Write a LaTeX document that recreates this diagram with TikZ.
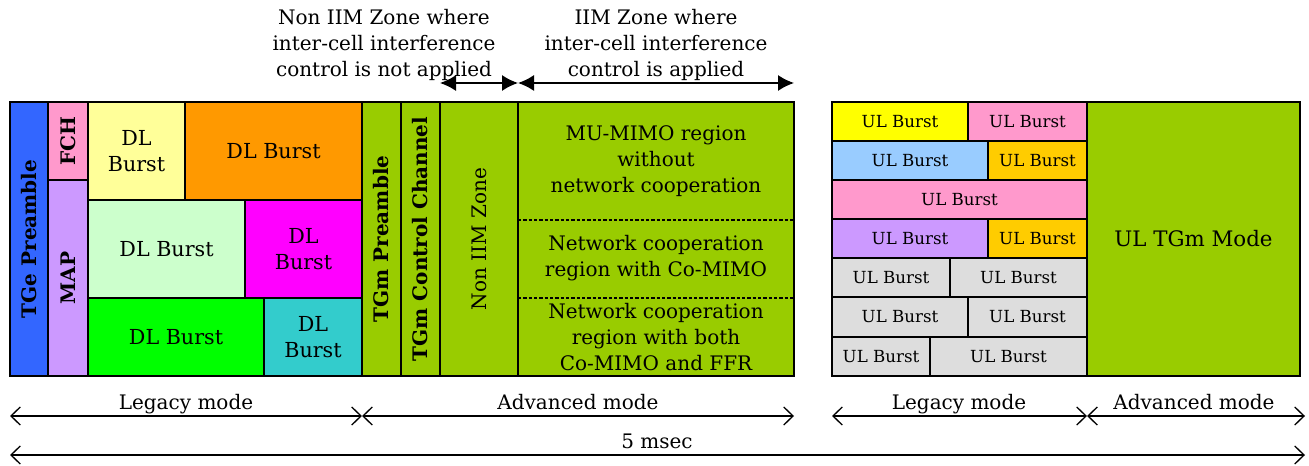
\documentclass[tikz,border=0pt]{standalone}
\usepackage{fontspec}
\setmainfont{DejaVu Serif}
\usetikzlibrary{arrows.meta}
\definecolor{cBlue}{HTML}{3366FF}
\definecolor{cPink}{HTML}{FF99CC}
\definecolor{cLav}{HTML}{CC99FF}
\definecolor{cLYel}{HTML}{FFFF99}
\definecolor{cOrange}{HTML}{FF9900}
\definecolor{cLGreen}{HTML}{CCFFCC}
\definecolor{cMag}{HTML}{FF00FF}
\definecolor{cGreen}{HTML}{00FF00}
\definecolor{cCyan}{HTML}{33CCCC}
\definecolor{cOlive}{HTML}{99CC00}
\definecolor{cYel}{HTML}{FFFF00}
\definecolor{cLBlue}{HTML}{99CCFF}
\definecolor{cGold}{HTML}{FFCC00}
\definecolor{cGray}{HTML}{DDDDDD}
\tikzset{
  box/.style={draw, line width=1.1pt, inner sep=0pt, outer sep=0pt, align=center,
    font=\fontsize{15.5}{19.5}\selectfont},
  ulbox/.style={box, font=\fontsize{12.5}{15}\selectfont},
  vlabel/.style={rotate=90, inner sep=0pt, font=\fontsize{15}{18}\selectfont\bfseries},
  vlabelnb/.style={rotate=90, inner sep=0pt, font=\fontsize{15}{18}\selectfont},
  txt/.style={inner sep=0pt, align=center, font=\fontsize{15}{19.5}\selectfont},
  toparrow/.style={line width=1.1pt, {Latex[length=12pt,width=12pt]}-{Latex[length=12pt,width=12pt]}},
  botarrow/.style={line width=1pt, {Straight Barb[length=7pt,width=13.5pt]}-{Straight Barb[length=7pt,width=13.5pt]}},
  divider/.style={line width=1pt, dash pattern=on 2.5pt off 1.5pt}
}
% #1 style, #2 name, #3 x1, #4 y1, #5 x2, #6 y2, #7 fill, #8 text
\newcommand\blk[8][box]{%
  \node[#1, fill=#7, minimum width={(#5-#3)*0.75pt}, minimum height={(#6-#4)*0.75pt}]
    (#2) at ({(#3+#5)/2},{(#4+#6)/2}) {#8};}
\begin{document}
\begin{tikzpicture}[x=0.75pt,y=-0.75pt]
\useasboundingbox (0,0) rectangle (1309,466);
% ---------- left frame ----------
\blk{tge}{10}{102}{48}{376}{cBlue}{}
\node[vlabel] (tgel) at (tge.center) {TGe Preamble};
\blk{fch}{48}{102}{88}{180}{cPink}{}
\node[vlabel] (fchl) at (fch.center) {FCH};
\blk{map}{48}{180}{88}{376}{cLav}{}
\node[vlabel] (mapl) at (map.center) {MAP};
\blk{dl1}{88}{102}{185}{200}{cLYel}{DL\\Burst}
\blk{dl2}{185}{102}{362}{200}{cOrange}{DL Burst}
\blk{dl3}{88}{200}{245}{298}{cLGreen}{DL Burst}
\blk{dl4}{245}{200}{362}{298}{cMag}{DL\\Burst}
\blk{dl5}{88}{298}{264}{376}{cGreen}{DL Burst}
\blk{dl6}{264}{298}{362}{376}{cCyan}{DL\\Burst}
\blk{tgmp}{362}{102}{401}{376}{cOlive}{}
\node[vlabel] (tgmpl) at (tgmp.center) {TGm Preamble};
\blk{tgmc}{401}{102}{440}{376}{cOlive}{}
\node[vlabel] (tgmcl) at (tgmc.center) {TGm Control Channel};
\blk{niim}{440}{102}{518}{376}{cOlive}{}
\node[vlabelnb] (niiml) at (niim.center) {Non IIM Zone};
\blk{iim}{518}{102}{794}{376}{cOlive}{}
\coordinate (d1) at (600,220);
\coordinate (d2) at (600,298);
\draw[divider] (iim.west |- d1) -- (iim.east |- d1);
\draw[divider] (iim.west |- d2) -- (iim.east |- d2);
\node[txt] (r1) at (656,161) {MU-MIMO region\\without\\network cooperation};
\node[txt] (r2) at (656,258) {Network cooperation\\region with Co-MIMO};
\node[txt] (r3) at (656,337) {Network cooperation\\region with both\\Co-MIMO and FFR};
% ---------- top annotations ----------
\node[txt] (tl) at (384,45) {Non IIM Zone where\\inter-cell interference\\control is not applied};
\node[txt] (tr) at (656,45) {IIM Zone where\\inter-cell interference\\control is applied};
\coordinate (a1) at (440,83);
\coordinate (a2) at (518,83);
\coordinate (a3) at (794,83);
\draw[toparrow] (a1) -- (a2);
\draw[toparrow] (a2) -- (a3);
% ---------- right frame ----------
\blk[ulbox]{u11}{832}{102}{968}{141}{cYel}{UL Burst}
\blk[ulbox]{u12}{968}{102}{1087}{141}{cPink}{UL Burst}
\blk[ulbox]{u21}{832}{141}{988}{180}{cLBlue}{UL Burst}
\blk[ulbox]{u22}{988}{141}{1087}{180}{cGold}{UL Burst}
\blk[ulbox]{u31}{832}{180}{1087}{219}{cPink}{UL Burst}
\blk[ulbox]{u41}{832}{219}{988}{258}{cLav}{UL Burst}
\blk[ulbox]{u42}{988}{219}{1087}{258}{cGold}{UL Burst}
\blk[ulbox]{u51}{832}{258}{950}{297}{cGray}{UL Burst}
\blk[ulbox]{u52}{950}{258}{1087}{297}{cGray}{UL Burst}
\blk[ulbox]{u61}{832}{297}{968}{337}{cGray}{UL Burst}
\blk[ulbox]{u62}{968}{297}{1087}{337}{cGray}{UL Burst}
\blk[ulbox]{u71}{832}{337}{930}{376}{cGray}{UL Burst}
\blk[ulbox]{u72}{930}{337}{1087}{376}{cGray}{UL Burst}
\blk[box,font=\fontsize{16}{19}\selectfont]{ultgm}{1087}{102}{1300}{376}{cOlive}{UL TGm Mode}
% ---------- bottom dimensions ----------
\coordinate (b1) at (10,416);
\coordinate (b2) at (362,416);
\coordinate (b3) at (794,416);
\coordinate (b4) at (832,416);
\coordinate (b5) at (1087,416);
\coordinate (b6) at (1305,416);
\coordinate (c1) at (10,455);
\coordinate (c2) at (1305,455);
\draw[botarrow] (b1) -- (b2);
\draw[botarrow] (b2) -- (b3);
\draw[botarrow] (b4) -- (b5);
\draw[botarrow] (b5) -- (b6);
\draw[botarrow] (c1) -- (c2);
\node[txt, anchor=base] (lg1) at (186,409) {Legacy mode};
\node[txt, anchor=base] (ad1) at (578,409) {Advanced mode};
\node[txt, anchor=base] (lg2) at (959,409) {Legacy mode};
\node[txt, anchor=base] (ad2) at (1194,409) {Advanced mode};
\node[txt, anchor=base] (ms) at (657,448) {5 msec};
\end{tikzpicture}
\end{document}
